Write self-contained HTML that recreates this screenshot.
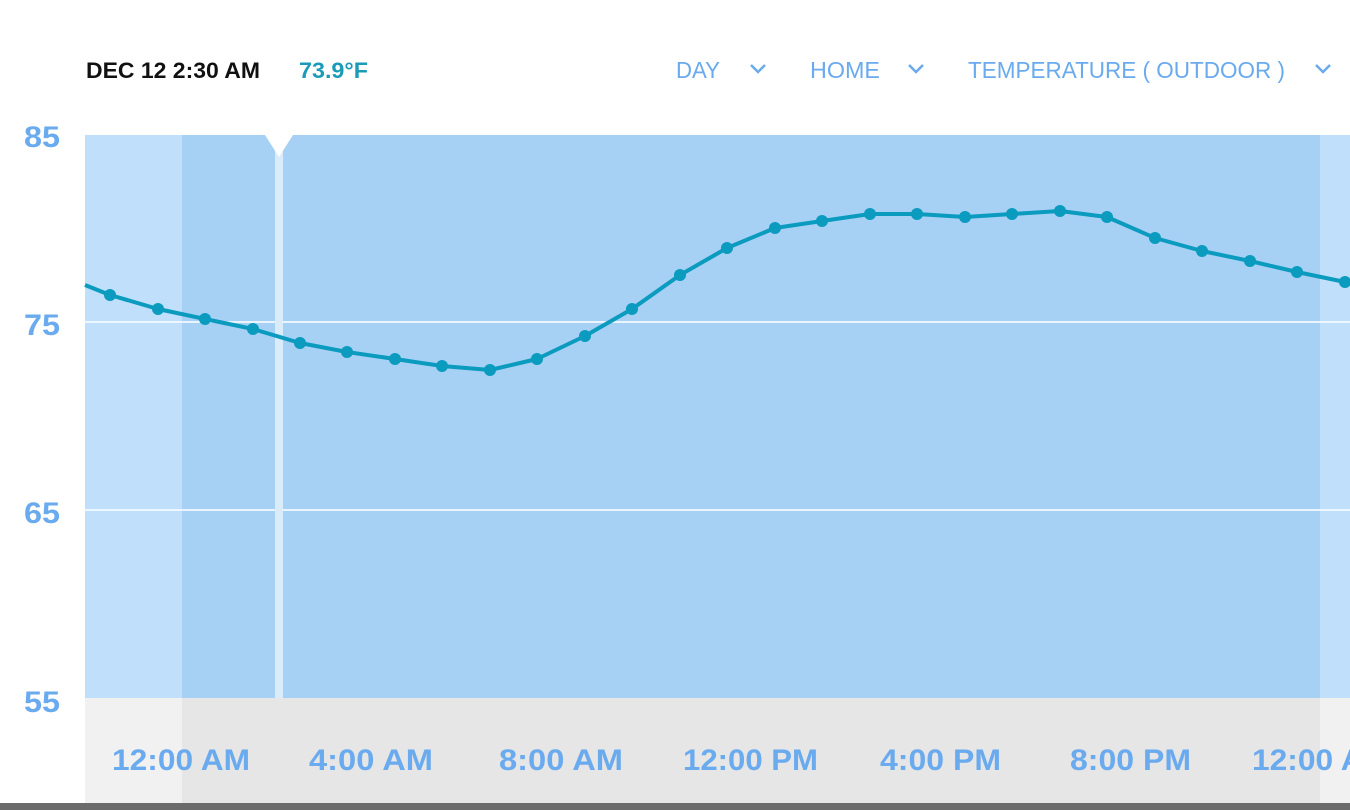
<!DOCTYPE html>
<html><head><style>
html,body{margin:0;padding:0;background:#fff;}
svg{display:block;}
text{font-family:"Liberation Sans",sans-serif;}
</style></head><body>
<svg width="1350" height="810" viewBox="0 0 1350 810" xmlns="http://www.w3.org/2000/svg">
<rect width="1350" height="810" fill="#fff"/>
<text x="86" y="78" font-size="22" font-weight="bold" fill="#111" textLength="174" lengthAdjust="spacingAndGlyphs">DEC 12 2:30 AM</text>
<text x="299" y="78" font-size="22" font-weight="bold" fill="#1a9bb8" textLength="69" lengthAdjust="spacingAndGlyphs">73.9°F</text>
<g fill="#6aaaee" font-size="23">
<text x="676" y="78" textLength="44" lengthAdjust="spacingAndGlyphs">DAY</text>
<text x="810" y="78" textLength="70" lengthAdjust="spacingAndGlyphs">HOME</text>
<text x="968" y="78" textLength="317" lengthAdjust="spacingAndGlyphs">TEMPERATURE ( OUTDOOR )</text>
</g>
<g fill="none" stroke="#6aaaee" stroke-width="2.5">
<polyline points="751,65 758,72 765,65"/>
<polyline points="909,65 916,72 923,65"/>
<polyline points="1316,65 1323,72 1330,65"/>
</g>
<rect x="85" y="135" width="1265" height="563" fill="#a6d1f5"/>
<rect x="85" y="135" width="97" height="563" fill="#bfdffb"/>
<rect x="1320" y="135" width="30" height="563" fill="#bfdffb"/>
<rect x="85" y="698" width="1265" height="106" fill="#e6e6e6"/>
<rect x="85" y="698" width="97" height="106" fill="#f1f1f1"/>
<rect x="1320" y="698" width="30" height="106" fill="#f1f1f1"/>
<rect x="0" y="803" width="1350" height="7" fill="#6b6b6b"/>
<line x1="85" y1="322" x2="1350" y2="322" stroke="#fff" stroke-width="1.5"/>
<line x1="85" y1="510" x2="1350" y2="510" stroke="#fff" stroke-width="1.5"/>
<rect x="275" y="150" width="8" height="548" fill="#daebfa"/>
<polygon points="265,135 293,135 279,157" fill="#fff"/>
<g fill="#6aaaee" font-size="30" font-weight="bold">
<text x="24" y="147" textLength="36" lengthAdjust="spacingAndGlyphs">85</text>
<text x="24" y="335" textLength="36" lengthAdjust="spacingAndGlyphs">75</text>
<text x="24" y="523" textLength="36" lengthAdjust="spacingAndGlyphs">65</text>
<text x="24" y="712" textLength="36" lengthAdjust="spacingAndGlyphs">55</text>
</g>
<g fill="#6aaaee" font-size="30" font-weight="bold">
<text x="112" y="770" textLength="138" lengthAdjust="spacingAndGlyphs">12:00 AM</text>
<text x="309" y="770" textLength="124" lengthAdjust="spacingAndGlyphs">4:00 AM</text>
<text x="499" y="770" textLength="124" lengthAdjust="spacingAndGlyphs">8:00 AM</text>
<text x="683" y="770" textLength="135" lengthAdjust="spacingAndGlyphs">12:00 PM</text>
<text x="880" y="770" textLength="121" lengthAdjust="spacingAndGlyphs">4:00 PM</text>
<text x="1070" y="770" textLength="121" lengthAdjust="spacingAndGlyphs">8:00 PM</text>
<text x="1252" y="770" textLength="138" lengthAdjust="spacingAndGlyphs">12:00 AM</text>
</g>
<polyline fill="none" stroke="#0a9bbf" stroke-width="4" stroke-linejoin="round" points="85,285 110,295 158,309 205,319 253,329 300,343 347,352 395,359 442,366 490,370 537,359 585,336 632,309 680,275 727,248 775,228 822,221 870,214 917,214 965,217 1012,214 1060,211 1107,217 1155,238 1202,251 1250,261 1297,272 1345,282"/>
<g fill="#0a9bbf">
<circle cx="110" cy="295" r="6"/><circle cx="158" cy="309" r="6"/><circle cx="205" cy="319" r="6"/><circle cx="253" cy="329" r="6"/><circle cx="300" cy="343" r="6"/><circle cx="347" cy="352" r="6"/><circle cx="395" cy="359" r="6"/><circle cx="442" cy="366" r="6"/><circle cx="490" cy="370" r="6"/><circle cx="537" cy="359" r="6"/><circle cx="585" cy="336" r="6"/><circle cx="632" cy="309" r="6"/><circle cx="680" cy="275" r="6"/><circle cx="727" cy="248" r="6"/><circle cx="775" cy="228" r="6"/><circle cx="822" cy="221" r="6"/><circle cx="870" cy="214" r="6"/><circle cx="917" cy="214" r="6"/><circle cx="965" cy="217" r="6"/><circle cx="1012" cy="214" r="6"/><circle cx="1060" cy="211" r="6"/><circle cx="1107" cy="217" r="6"/><circle cx="1155" cy="238" r="6"/><circle cx="1202" cy="251" r="6"/><circle cx="1250" cy="261" r="6"/><circle cx="1297" cy="272" r="6"/><circle cx="1345" cy="282" r="6"/>
</g>
</svg>
</body></html>
